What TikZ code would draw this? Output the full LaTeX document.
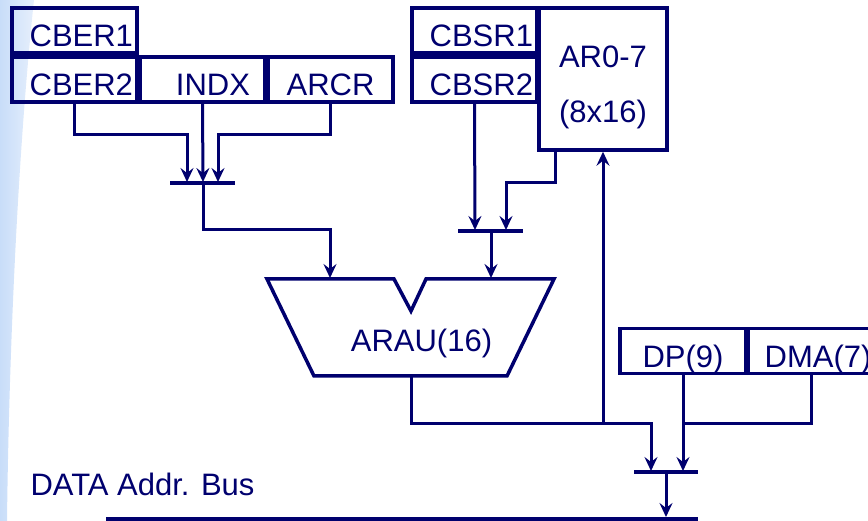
\documentclass[tikz,border=0pt]{standalone}
\usepackage{fontspec}
\setmainfont{Liberation Sans}
\usetikzlibrary{arrows.meta}
\definecolor{navy}{RGB}{0,0,110}
\definecolor{slideblue}{RGB}{200,221,249}
\definecolor{slidelight}{RGB}{230,239,252}

\tikzset{
  reg/.style={draw=navy, line width=3.5pt, minimum height=45pt, inner sep=2pt,
    text height=33pt, text depth=0pt, text=navy},
  lbl/.style={text=navy, inner sep=0pt, text height=22pt, text depth=0pt},
  wire/.style={navy, line width=3pt},
  feed/.style={wire, -{Stealth[length=14pt,width=13pt,inset=5pt]}},
  bar/.style={navy, line width=3.5pt},
}

\begin{document}
\begin{tikzpicture}[x=1pt, y=-1pt, font=\fontsize{31}{37}\selectfont]
  \useasboundingbox (0,0) rectangle (868,521);
  \clip (0,0) rectangle (868,521);
  % slide edge
  \shade[left color=slideblue, right color=slidelight]
    (0,0) -- (34,0) .. controls (18,150) and (9,350) .. (7,521) -- (0,521) -- cycle;

  % Registers
  \node[reg, minimum width=125pt, text width=117pt, align=right] (cber1) at (74.5,30.5) {CBER1};
  \node[reg, minimum width=125pt, text width=117pt, align=right] (cber2) at (74.5,79.5) {CBER2};
  \node[reg, minimum width=125pt, text width=95pt, align=right] (indx) at (202.5,79.5) {INDX};
  \node[reg, minimum width=125pt] (arcr) at (330.5,79.5) {ARCR};
  \node[reg, minimum width=125pt, text width=117pt, align=right] (cbsr1) at (474.5,30.5) {CBSR1};
  \node[reg, minimum width=125pt, text width=117pt, align=right] (cbsr2) at (474.5,79.5) {CBSR2};
  \node[reg, minimum width=128pt, minimum height=142pt, align=center, text height=88pt] (ar) at (603,79) {AR0-7\\[18pt](8x16)};
  \node[reg, minimum width=126pt] (dp) at (683,351) {DP(9)};
  \node[reg, minimum width=140pt] (dma) at (818,351) {DMA(7)};

  % ARAU
  \draw[navy, line width=3.5pt, line join=miter]
    (267,279) -- (394,279) -- (411,311) -- (426,279) -- (554,279) -- (507,376) -- (314,376) -- cycle;
  \node[lbl] (arau) at (421.5,341) {ARAU(16)};
  \coordinate (inL) at (330,278);
  \coordinate (inR) at (491,278);
  \coordinate (out) at (411,376);

  % Bus
  \node[lbl] (busname) at (142.5,484) {DATA Addr. Bus};
  \coordinate (busL) at (106,519.5);
  \coordinate (busR) at (698,519.5);
  \coordinate (busin) at (666,517);
  \draw[navy, line width=5pt] (busL) -- (busR);

  % Junctions
  \coordinate (j1) at (203,183);
  \coordinate (j1a) at (187,182);
  \coordinate (j1b) at (203,182);
  \coordinate (j1c) at (218,182);
  \draw[bar] (170,183) -- (235,183);
  \coordinate (j2) at (491,231);
  \coordinate (j2a) at (475,230);
  \coordinate (j2b) at (506,230);
  \draw[bar] (458,231) -- (523,231);
  \coordinate (j3) at (666,472);
  \coordinate (j3a) at (651,471);
  \coordinate (j3b) at (683,471);
  \draw[bar] (634,472) -- (698,472);
  \coordinate (tap) at (603,423);

  % Connectors
  \draw[feed] (cber2.south) |- (187,135) -- (j1a);
  \draw[feed] (indx.south) -- (j1b);
  \draw[feed] (arcr.south) |- (218,135) -- (j1c);
  \draw[feed] (j1) |- (330,230) -- (inL);
  \draw[feed] (cbsr2.south) -- (j2a);
  \draw[feed] ([xshift=-48pt]ar.south) |- (506,183) -- (j2b);
  \draw[feed] (j2) -- (inR);
  \draw[feed] (out) |- (651,423) -- (j3a);
  \draw[feed] (tap) -- (ar.south);
  \draw[feed] (dp.south) -- (j3b);
  \draw[wire] ([xshift=-7pt]dma.south) |- (683,423);
  \draw[feed] (j3) -- (busin);
\end{tikzpicture}
\end{document}
